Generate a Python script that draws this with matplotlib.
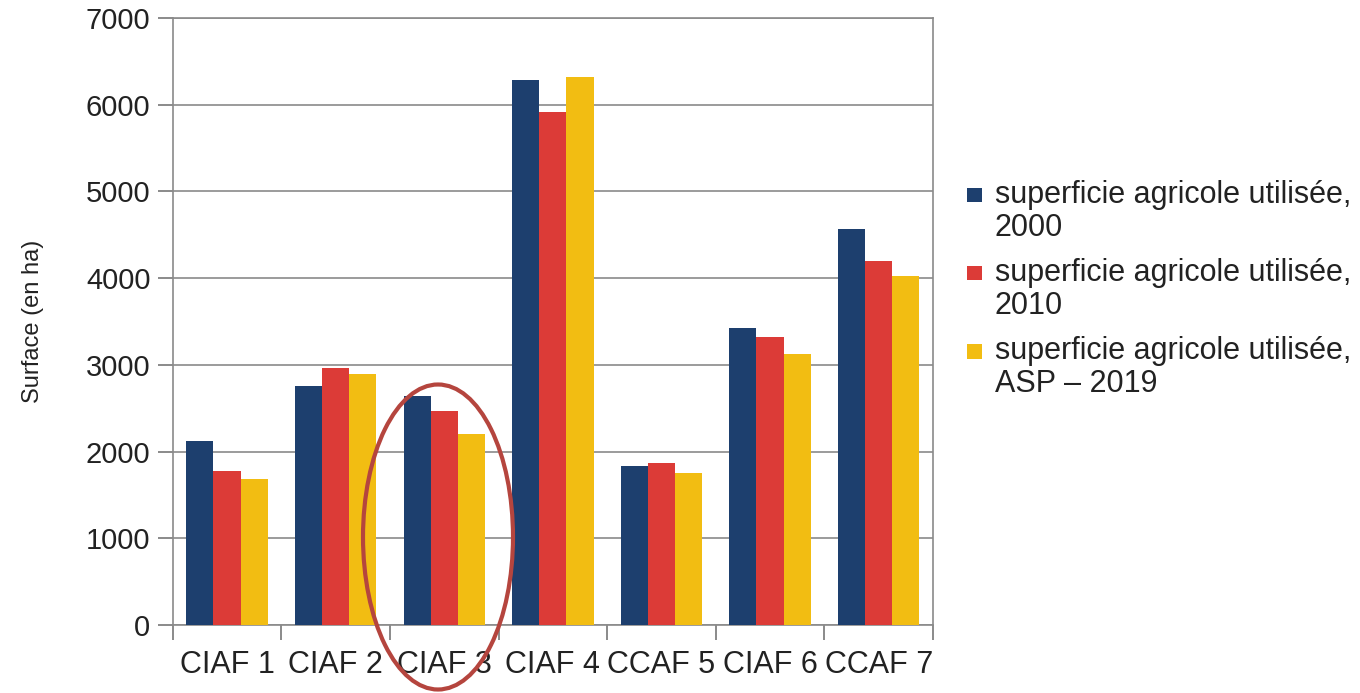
import numpy as np
import matplotlib
matplotlib.use("Agg")
import matplotlib.pyplot as plt
from matplotlib.patches import Ellipse, Rectangle
from matplotlib.container import BarContainer
from matplotlib.legend_handler import HandlerPatch

# surfaces par territoire (ha)
territoires = ["CIAF 1", "CIAF 2", "CIAF 3", "CIAF 4", "CCAF 5", "CIAF 6", "CCAF 7"]
sau_2000 = [2120, 2760, 2640, 6280, 1830, 3420, 4570]
sau_2010 = [1780, 2970, 2470, 5920, 1870, 3320, 4200]
sau_2019 = [1690, 2900, 2200, 6320, 1750, 3130, 4030]
series_labels = ["superficie agricole utilisée,\n2000",
                 "superficie agricole utilisée,\n2010",
                 "superficie agricole utilisée,\nASP \u2013 2019"]
colors = ["#1d3f6e", "#dc3b37", "#f2bd12"]

plt.rcParams['font.family'] = ['Liberation Sans', 'DejaVu Sans']

fig = plt.figure(figsize=(13.6, 6.93), dpi=100)
ax = fig.add_axes([0.127, 0.098, 0.559, 0.876])

x = np.arange(len(territoires))
w = 0.25
for i, (vals, lab, col) in enumerate(zip([sau_2000, sau_2010, sau_2019], series_labels, colors)):
    ax.bar(x + (i - 1) * w, vals, w, color=col, label=lab, zorder=3)

ax.set_xlim(-0.5, len(territoires) - 0.5)
ax.set_ylim(0, 7000)
ax.set_yticks(range(0, 7001, 1000))
ax.yaxis.grid(True, color="#8a8a8a", linewidth=1.2, zorder=0)
ax.set_xticks(x)
ax.set_xticklabels(territoires, fontsize=22, color="#222222")
ax.set_xticks(np.arange(-0.5, len(territoires), 1), minor=True)
ax.tick_params(axis="x", which="major", length=0, pad=18)
ax.tick_params(axis="x", which="minor", length=11, color="#777777", width=1.2)
ax.tick_params(axis="y", length=11, color="#777777", width=1.2, labelsize=21,
               labelcolor="#222222", pad=5)
for s in ax.spines.values():
    s.set_color("#8a8a8a")
    s.set_linewidth(1.2)
ax.set_ylabel("Surface (en ha)", fontsize=17, color="#222222", labelpad=30)


# carré de légende aligné sur la première ligne du libellé
def top_square(legend, orig_handle, xdescent, ydescent, width, height, fontsize):
    s = 0.46 * fontsize
    return Rectangle((-xdescent, -ydescent + height / 2 - s / 2 + 0.55 * fontsize), s * 1.1, s)


def bar_style(legend_handle, orig_handle):
    legend_handle.update_from(orig_handle.patches[0])


leg = fig.legend(loc="upper left", bbox_to_anchor=(0.711, 0.740), frameon=False,
                 fontsize=22, handlelength=0.51, handleheight=0.5, handletextpad=0.4,
                 labelspacing=0.5, borderpad=0, borderaxespad=0,
                 handler_map={BarContainer: HandlerPatch(patch_func=top_square,
                                                         update_func=bar_style)})
for t in leg.get_texts():
    t.set_color("#222222")
    t.set_linespacing(1.12)

# cercle autour de CIAF 3
ell = Ellipse((438 / 1360, 1 - 537 / 693), 150 / 1360, 305 / 693, transform=fig.transFigure,
              fill=False, edgecolor="#b5453e", linewidth=3, zorder=10)
fig.add_artist(ell)

fig.savefig("out.png", dpi=100)
